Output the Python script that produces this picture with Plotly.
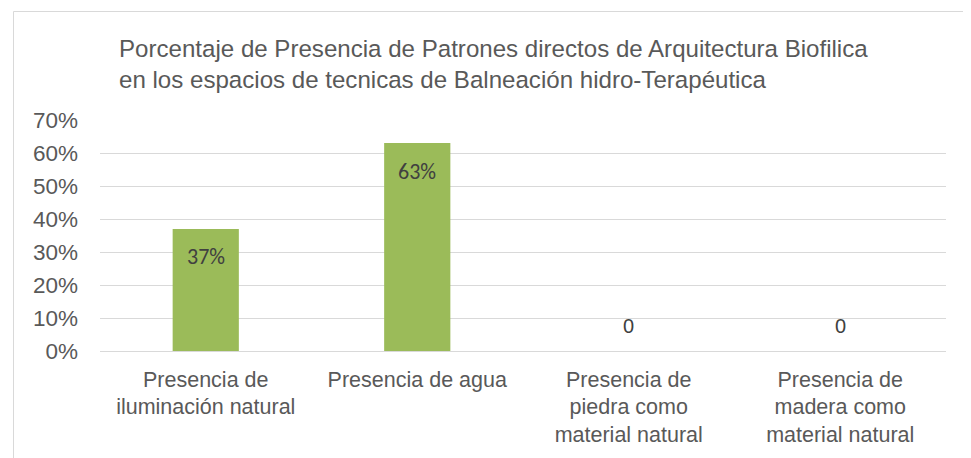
import plotly.graph_objects as go

categories = ["Presencia de<br>iluminación natural", "Presencia de agua",
              "Presencia de<br>piedra como<br>material natural",
              "Presencia de<br>madera como<br>material natural"]
values = [0.37, 0.63, 0.0, 0.0]
value_labels = ["37%", "63%", "0", "0"]
title_text = ("Porcentaje de Presencia de Patrones directos de Arquitectura Biofilica<br>"
              "en los espacios de tecnicas de Balneación hidro-Terapéutica")

# page body has an 8px margin: positions below are in figure coordinates
L, R, T, B = 92, 938, 112, 343
PW, PH = R - L, B - T

fig = go.Figure()
fig.add_trace(go.Bar(x=categories, y=values, marker=dict(color="#9BBB59", line=dict(width=0)),
                     hoverinfo="skip"))

for c, v, lab in zip(categories, values, value_labels):
    if v > 0:
        fig.add_annotation(x=c, y=v, text=lab, showarrow=False, yanchor="middle", yshift=-28,
                           font=dict(family="Carlito, Liberation Sans, Arial", size=22, color="#404040"))
    else:
        fig.add_annotation(x=c, y=v, text=lab, showarrow=False, yanchor="middle", yshift=25,
                           font=dict(family="Liberation Sans, Arial", size=20, color="#404040"))

fig.add_annotation(xref="paper", yref="paper", x=(109 - L) / PW, y=(B - 25) / PH,
                   xanchor="left", yanchor="top", align="left", showarrow=False,
                   text=title_text,
                   font=dict(family="Liberation Sans, Arial", size=24.1, color="#595959"))

fig.add_shape(type="rect", xref="paper", yref="paper",
              x0=(5.5 - L) / PW, x1=(1000 - L) / PW,
              y0=(B - 480) / PH, y1=(B - 3.5) / PH,
              line=dict(color="#D9D9D9", width=1), fillcolor="rgba(0,0,0,0)", layer="below")

fig.update_layout(
    width=971, height=458,
    margin=dict(l=L, r=971 - R, t=T, b=458 - B),
    paper_bgcolor="white", plot_bgcolor="white",
    bargap=0.687, showlegend=False,
    font=dict(family="Liberation Sans, Arial", size=22, color="#595959"),
)
fig.update_xaxes(showgrid=False, showline=False, ticks="", tickfont=dict(size=21.5, color="#595959"),
                 tickangle=0, ticklabelstandoff=13)
fig.update_yaxes(range=[0, 0.7], dtick=0.1, tickformat=".0%", showgrid=True, gridcolor="#D9D9D9",
                 gridwidth=1, zeroline=True, zerolinecolor="#D9D9D9", zerolinewidth=1,
                 showline=False, ticks="", ticklabelstandoff=21,
                 tickfont=dict(size=22.5, color="#595959"))

fig.write_html("out.html")
